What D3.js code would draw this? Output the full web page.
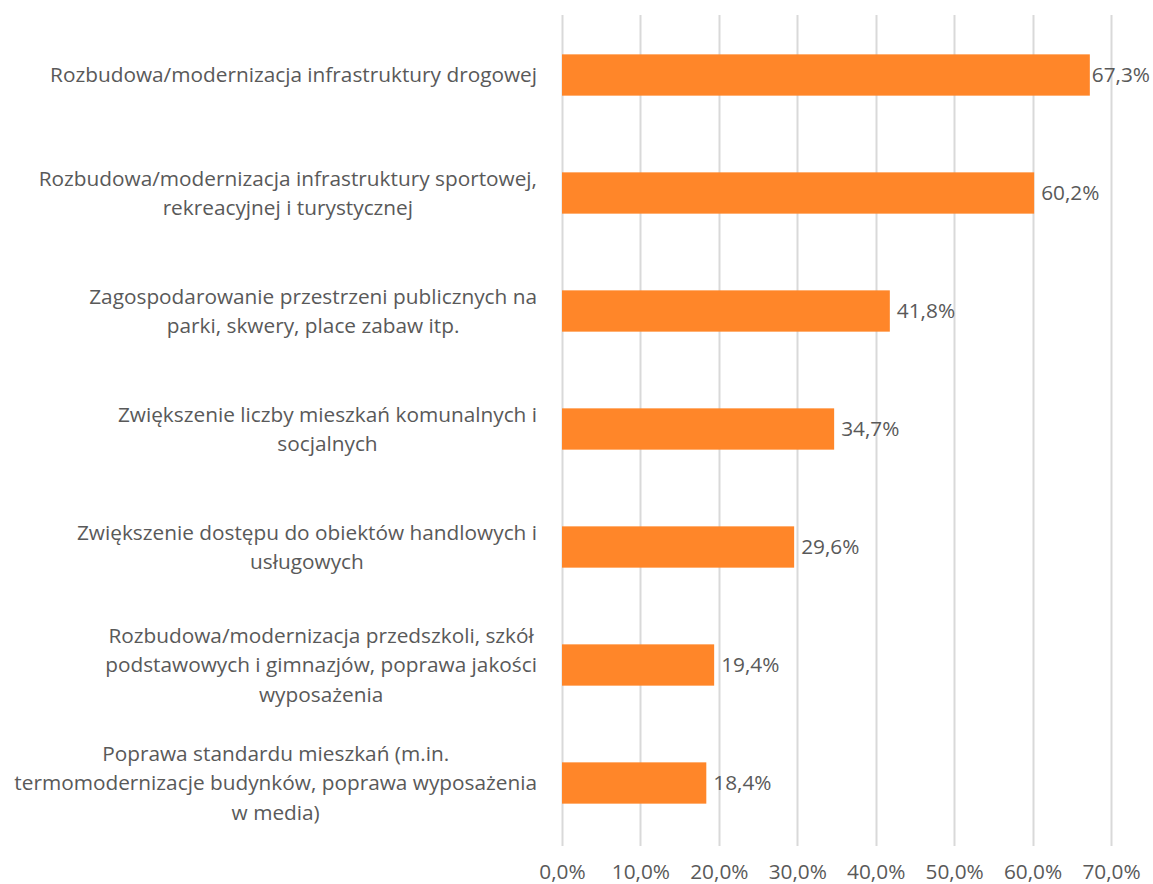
<!DOCTYPE html>
<html>
<head>
<meta charset="utf-8">
<script src="https://cdn.jsdelivr.net/npm/d3@7"></script>
<style>
  body { margin: 0; background: #fff; }
  svg text { font-family: "Open Sans", sans-serif; fill: #595959; }
</style>
</head>
<body>
<div id="chart"></div>
<script>
// categories (each line of the label as a separate entry)
const categories = [
  ["Rozbudowa/modernizacja infrastruktury drogowej"],
  ["Rozbudowa/modernizacja infrastruktury sportowej,", "rekreacyjnej i turystycznej"],
  ["Zagospodarowanie przestrzeni publicznych na", "parki, skwery, place zabaw itp."],
  ["Zwiększenie liczby mieszkań komunalnych i", "socjalnych"],
  ["Zwiększenie dostępu do obiektów handlowych i", "usługowych"],
  ["Rozbudowa/modernizacja przedszkoli, szkół", "podstawowych i gimnazjów, poprawa jakości", "wyposażenia"],
  ["Poprawa standardu mieszkań (m.in.", "termomodernizacje budynków, poprawa wyposażenia", "w media)"]
];
const values = [67.3, 60.2, 41.8, 34.7, 29.6, 19.4, 18.4];
const tickValues = [0, 10, 20, 30, 40, 50, 60, 70];

const width = 1153, height = 884;
const plotLeft = 562, plotRight = 1111, plotTop = 16, plotBottom = 842;
const fontSize = 20.8, lineHeight = 29.5;
const fmt = v => v.toFixed(1).replace(".", ",") + "%";

const svg = d3.select("#chart").append("svg")
  .attr("width", width)
  .attr("height", height);

const x = d3.scaleLinear().domain([0, 70]).range([plotLeft, plotRight]);
const y = d3.scaleBand()
  .domain(d3.range(categories.length))
  .range([plotTop, plotBottom])
  .paddingInner(0.65)
  .paddingOuter(0.325);

// gridlines
svg.append("g").selectAll("line.grid")
  .data(tickValues)
  .enter().append("line")
  .classed("grid", true)
  .attr("x1", d => Math.round(x(d)) + 0.5)
  .attr("x2", d => Math.round(x(d)) + 0.5)
  .attr("y1", 15)
  .attr("y2", 846)
  .style("stroke", "#d9d9d9")
  .style("stroke-width", "2px");

// x axis tick labels
const xAxis = d3.axisBottom(x)
  .tickValues(tickValues)
  .tickSize(0)
  .tickFormat(d => fmt(d));
svg.append("g")
  .attr("transform", `translate(0, ${height - 5})`)
  .call(xAxis)
  .call(g => g.select(".domain").remove())
  .selectAll("text")
  .attr("y", 0)
  .attr("dy", 0)
  .style("font-size", fontSize + "px")
  .style("font-family", "'Open Sans', sans-serif")
  .style("fill", "#595959");

// bars
svg.append("g").selectAll("rect.bar")
  .data(values)
  .enter().append("rect")
  .classed("bar", true)
  .attr("x", x(0))
  .attr("y", (d, i) => y(i))
  .attr("width", d => x(d) - x(0))
  .attr("height", y.bandwidth())
  .attr("fill", "#ff8629");

// value labels
const valLabels = svg.append("g").selectAll("text.value")
  .data(values)
  .enter().append("text")
  .classed("value", true)
  .style("font-size", fontSize + "px")
  .attr("y", (d, i) => y(i) + y.bandwidth() / 2)
  .attr("dy", "0.35em")
  .text(d => fmt(d));
valLabels.each(function(d) {
  const w = this.getComputedTextLength();
  const px = Math.min(x(d) + 7, width - 3 - w);
  d3.select(this).attr("x", px);
});

// category labels, centered lines, block right-aligned
const labelRight = 537;
const catG = svg.append("g").selectAll("text.cat")
  .data(categories)
  .enter().append("text")
  .classed("cat", true)
  .style("font-size", fontSize + "px")
  .attr("text-anchor", "middle");
catG.each(function(lines, i) {
  const t = d3.select(this);
  const cy = y(i) + y.bandwidth() / 2;
  const y0 = cy - (lines.length - 1) * lineHeight / 2;
  lines.forEach((ln, j) => {
    t.append("tspan").attr("y", y0 + j * lineHeight).attr("dy", "0.35em").text(ln);
  });
  let maxW = 0;
  t.selectAll("tspan").each(function() {
    maxW = Math.max(maxW, this.getComputedTextLength());
  });
  t.selectAll("tspan").attr("x", labelRight - maxW / 2);
});
</script>
</body>
</html>
